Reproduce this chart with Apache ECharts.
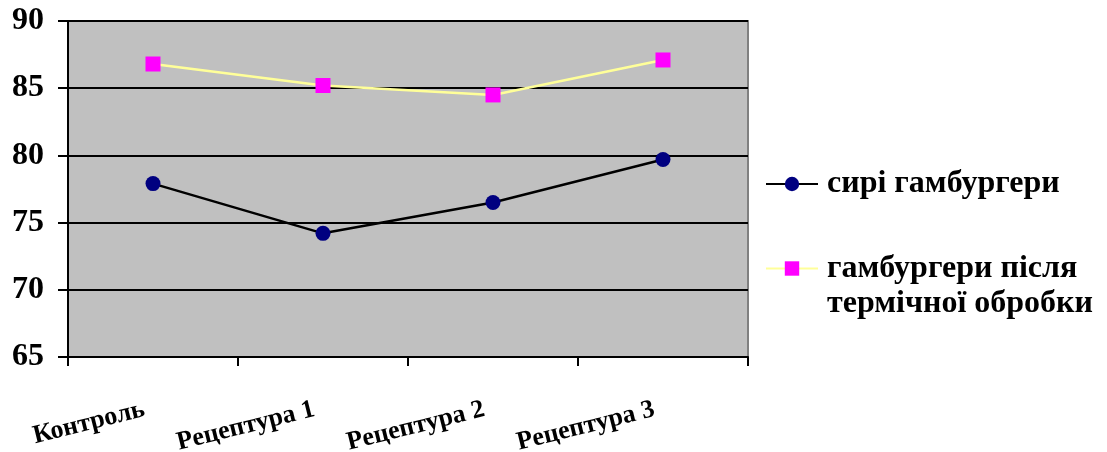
<!DOCTYPE html>
<html><head><meta charset="utf-8">
<script src="https://cdn.jsdelivr.net/npm/echarts@6/dist/echarts.min.js"></script>
<style>html,body{margin:0;padding:0;background:#fff}#c{width:1107px;height:452px}</style>
</head><body><div id="c"></div>
<script>
const categories = ['Контроль', 'Рецептура 1', 'Рецептура 2', 'Рецептура 3'];
const rawValues = [77.9, 74.2, 76.5, 79.7];
const cookedValues = [86.8, 85.2, 84.5, 87.1];
const seriesNames = ['сирі гамбургери', 'гамбургери після\nтермічної обробки'];
const yTicks = { min: 65, max: 90, interval: 5 };

const FONT = '"Liberation Serif", "Times New Roman", serif';
const chart = echarts.init(document.getElementById('c'), null, { renderer: 'canvas' });
chart.setOption({
  animation: false,
  backgroundColor: '#ffffff',
  grid: { left: 68, right: 359, top: 21, bottom: 95, containLabel: false, outerBoundsMode: 'none',
    show: true, backgroundColor: '#c0c0c0', borderColor: '#808080', borderWidth: 2 },
  xAxis: {
    type: 'category', data: categories, boundaryGap: true,
    axisLine: { lineStyle: { color: '#000', width: 2 } },
    axisTick: { show: true, length: 9, lineStyle: { color: '#000', width: 2 } },
    axisLabel: { rotate: 14, margin: 50, padding: [0, 9, 0, 0], color: '#000', fontFamily: FONT, fontWeight: 'bold', fontSize: 26 }
  },
  yAxis: {
    type: 'value', min: yTicks.min, max: yTicks.max, interval: yTicks.interval,
    axisLine: { show: true, lineStyle: { color: '#000', width: 2 } },
    axisTick: { show: true, length: 10, lineStyle: { color: '#000', width: 2 } },
    axisLabel: { margin: 24, color: '#000', fontFamily: FONT, fontWeight: 'bold', fontSize: 32 },
    splitLine: { show: true, lineStyle: { color: '#000', width: 2 } }
  },
  legend: [
    { data: [seriesNames[0]], orient: 'vertical', left: 765, top: 168, padding: 0, itemWidth: 52, itemHeight: 18, itemGap: 0,
      textStyle: { color: '#000', fontFamily: FONT, fontWeight: 'bold', fontSize: 32, padding: [0, 0, 0, 4] } },
    { data: [seriesNames[1]], orient: 'vertical', left: 765, top: 216, padding: 0, itemWidth: 52, itemHeight: 18, itemGap: 0,
      formatter: function (n) { return '\n' + n; },
      textStyle: { color: '#000', fontFamily: FONT, fontWeight: 'bold', fontSize: 32, lineHeight: 35, padding: [0, 0, 0, 4] } }
  ],
  series: [
    { name: seriesNames[0], type: 'line', data: rawValues, symbol: 'circle', symbolSize: 15,
      lineStyle: { color: '#000', width: 2.5 }, itemStyle: { color: '#000080', borderWidth: 0 } },
    { name: seriesNames[1], type: 'line', data: cookedValues, symbol: 'rect', symbolSize: 15,
      lineStyle: { color: '#ffff99', width: 2.5 }, itemStyle: { color: '#ff00ff', borderWidth: 0 } }
  ]
});
</script></body></html>
